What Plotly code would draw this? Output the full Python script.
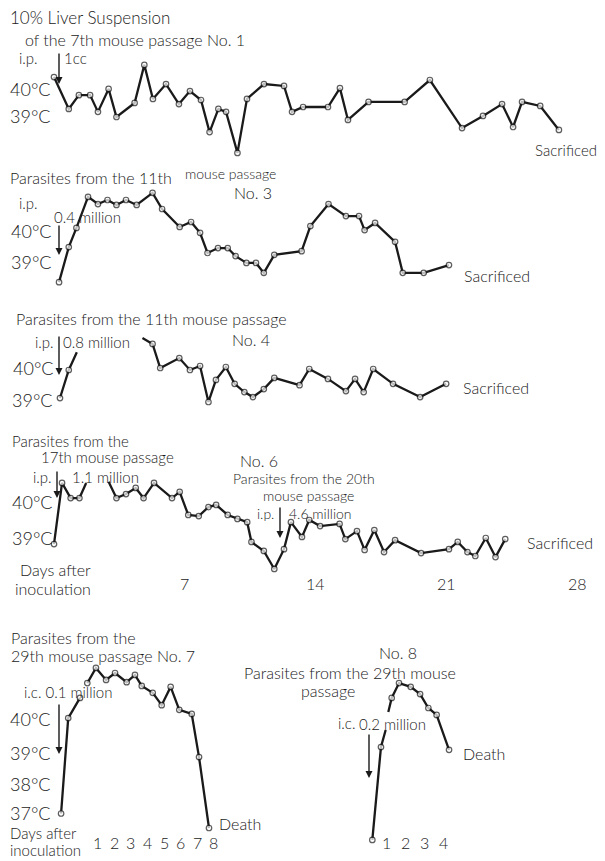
import plotly.graph_objects as go

W, H = 605, 861
OFF = 8            # page body margin of the browser
FW, FH = W - OFF, H - OFF

# ---------------- data (days after inoculation, body temperature in deg C) ----------------
# No. 1
p1_days = [0.0, 0.79, 1.33, 1.93, 2.35, 2.92, 3.34, 4.31, 4.83, 5.29, 5.99, 6.68, 7.27, 7.86, 8.32,
           8.79, 9.2, 9.81, 10.32, 11.23, 12.3, 12.73, 13.32, 14.65, 15.29, 15.72, 16.82, 18.75,
           20.1, 21.82, 22.94, 23.96, 24.55, 25.03, 26.0, 27.0]
p1_temp = [40.48, 39.30, 39.81, 39.81, 39.19, 40.04, 39.0, 39.52, 40.93, 39.67, 40.22, 39.48, 39.96,
           39.63, 38.44, 39.30, 39.19, 37.67, 39.67, 40.22, 40.15, 39.19, 39.37, 39.37, 40.07, 38.89,
           39.56, 39.56, 40.37, 38.59, 39.04, 39.48, 38.63, 39.56, 39.41, 38.52]
# No. 3
p3_days = [0.27, 0.79, 1.2, 1.82, 2.35, 2.86, 3.34, 3.85, 4.42, 5.27, 5.78, 6.72, 7.33, 7.81, 8.21,
           8.77, 9.29, 9.71, 10.29, 10.8, 11.22, 11.78, 13.24, 13.71, 14.68, 15.61, 16.31, 16.61,
           17.17, 18.24, 18.65, 19.77, 21.12]
p3_temp = [38.35, 39.48, 40.10, 41.10, 40.87, 41.0, 40.84, 41.0, 40.84, 41.23, 40.71, 40.13, 40.29,
           39.94, 39.29, 39.45, 39.45, 39.19, 38.97, 38.97, 38.65, 39.23, 39.35, 40.16, 40.87, 40.48,
           40.48, 40.03, 40.26, 39.65, 38.65, 38.65, 38.9]
# No. 4 (two drawn segments)
p4a_days = [0.32, 0.79, 1.22]
p4a_temp = [39.09, 39.94, 40.48]
p4b_days = [4.73, 5.27, 5.68, 6.7, 7.27, 7.81, 8.26, 8.66, 9.19, 9.66, 10.18, 10.64, 11.22, 11.78,
            13.13, 13.65, 14.65, 15.61, 16.1, 16.56, 17.07, 18.13, 19.58, 20.97]
p4b_temp = [40.91, 40.73, 40.0, 40.3, 39.94, 40.06, 38.97, 39.64, 40.03, 39.52, 39.27, 39.12, 39.36,
            39.70, 39.48, 39.97, 39.67, 39.30, 39.67, 39.27, 39.97, 39.52, 39.12, 39.52]
# No. 6 (two drawn segments)
p6a_days = [0.0, 0.43, 0.89, 1.36, 1.72]
p6a_temp = [38.83, 40.53, 40.11, 40.11, 40.53]
p6b_days = [2.92, 3.34, 3.85, 4.37, 4.79, 5.35, 6.31, 6.72, 7.18, 7.74, 8.26, 8.67, 9.29, 9.81,
            10.33, 10.56, 11.22, 11.78, 12.3, 12.67, 13.26, 13.65, 14.23, 15.27, 15.58, 16.2, 16.61,
            17.13, 17.65, 18.24, 19.63, 21.12, 21.59, 22.11, 22.53, 23.09, 23.61, 24.13]
p6b_temp = [40.56, 40.11, 40.22, 40.39, 40.11, 40.53, 40.11, 40.28, 39.64, 39.61, 39.86, 39.92,
            39.64, 39.53, 39.44, 38.89, 38.64, 38.14, 38.69, 39.44, 39.03, 39.5, 39.33, 39.39, 38.97,
            39.19, 38.67, 39.22, 38.61, 38.94, 38.58, 38.69, 38.89, 38.61, 38.5, 39.0, 38.47, 38.97]
# No. 7
p7a_days = [-1.2, -0.77, -0.06]
p7a_temp = [37.0, 40.03, 40.67]
p7b_days = [0.38, 0.9, 1.51, 2.05, 2.75, 3.25, 3.66, 4.32, 4.86, 5.40, 5.92, 6.67, 7.11, 7.71]
p7b_temp = [41.14, 41.62, 41.24, 41.46, 41.17, 41.40, 41.05, 40.83, 40.44, 41.02, 40.29, 40.16,
            38.79, 36.54]
# No. 8
p8a_days = [0.23, 0.69, 0.94]
p8a_temp = [36.16, 39.11, 39.65]
p8b_days = [1.08, 1.26, 1.65, 2.27, 2.77, 3.21, 3.65, 4.31]
p8b_temp = [40.22, 40.67, 41.14, 41.02, 40.79, 40.35, 40.13, 39.02]

# tick labels
long_ticks = [7, 14, 21, 28]
short_ticks7 = [1, 2, 3, 4, 5, 6, 7, 8]
short_ticks8 = [1, 2, 3, 4]
temp_labels_top = ["40°C", "39°C"]
temp_labels_7 = ["40°C", "39°C", "38°C", "37°C"]

# ---------------- layout helpers ----------------
FONT = "Lato"
WEIGHT = 300
INK = "#1a1a1a"


def xr(p0, s):
    p = p0 - OFF
    return [-p / s, (FW - p) / s]


def yr(y40, k):
    y = y40 - OFF
    return [40 - (FH - y) / k, 40 + y / k]


def px(x):
    return (x - OFF) / FW


def py(y):
    return 1 - (y - OFF) / FH


# panel scale: (page pixel of day 0, px per day, page pixel y of 40 C, px per degree)
scales = {
    1: (54, 18.7, 90, 27),
    2: (54, 18.7, 231, 31),
    3: (54, 18.7, 368, 33),
    4: (54, 18.7, 502, 36),
    5: (81, 16.6, 719, 31.5),
    6: (368, 18.8, 719, 31.5),
}

fig = go.Figure()


def add_series(ax, days, temps, open_start=False, open_end=False):
    sizes = [5.5] * len(days)
    if open_start:
        sizes[0] = 0
    if open_end:
        sizes[-1] = 0
    xa = "x" if ax == 1 else f"x{ax}"
    ya = "y" if ax == 1 else f"y{ax}"
    fig.add_trace(go.Scatter(
        x=days, y=temps, xaxis=xa, yaxis=ya, mode="lines+markers",
        line=dict(color=INK, width=2.3),
        marker=dict(size=sizes, color="white", line=dict(color=INK, width=1.2)),
        showlegend=False, hoverinfo="skip"))


add_series(1, p1_days, p1_temp)
add_series(2, p3_days, p3_temp)
add_series(3, p4a_days, p4a_temp, open_end=True)
add_series(3, p4b_days, p4b_temp, open_start=True)
add_series(4, p6a_days, p6a_temp, open_end=True)
add_series(4, p6b_days, p6b_temp, open_start=True)
add_series(5, p7a_days, p7a_temp)
add_series(5, p7b_days, p7b_temp)
add_series(6, p8a_days, p8a_temp, open_end=True)
add_series(6, p8b_days, p8b_temp, open_start=True)

layout = dict(width=FW, height=FH, margin=dict(l=0, r=0, t=0, b=0),
              paper_bgcolor="white", plot_bgcolor="rgba(0,0,0,0)", showlegend=False)
for i, (p0, s, y40, k) in scales.items():
    xn = "xaxis" if i == 1 else f"xaxis{i}"
    yn = "yaxis" if i == 1 else f"yaxis{i}"
    xd = dict(range=xr(p0, s), domain=[0, 1], visible=False, fixedrange=True)
    yd = dict(range=yr(y40, k), domain=[0, 1], visible=False, fixedrange=True)
    if i > 1:
        xd.update(overlaying="x", anchor=f"y{i}")
        yd.update(overlaying="y", anchor=f"x{i}")
    layout[xn] = xd
    layout[yn] = yd
fig.update_layout(**layout)

ann = []


def font(size):
    return dict(family=FONT, size=size, color=INK, weight=WEIGHT)


def text(x, y, t, size=16, anchor="left"):
    ann.append(dict(x=px(max(x, OFF + 1)), y=py(y), xref="paper", yref="paper", text=t,
                    showarrow=False, xanchor=anchor, yanchor="middle", borderpad=0,
                    font=font(size)))


def arrow(x, y0, y1):
    ann.append(dict(x=px(x), y=py(y1), xref="paper", yref="paper", ax=0, ay=-(y1 - y0),
                    axref="pixel", ayref="pixel", text="", showarrow=True, arrowhead=2,
                    arrowsize=1, arrowwidth=1.4, arrowcolor=INK))


def ticks(axis, values, y):
    for t in values:
        ann.append(dict(x=t, y=py(y), xref=axis, yref="paper", text=str(t), showarrow=False,
                        xanchor="center", yanchor="middle", borderpad=0, font=font(16)))


# No. 1
text(6, 17, "10% Liver Suspension", 17)
text(24, 40, "of the 7th mouse passage No. 1", 16)
text(18, 58, "i.p.", 15)
text(63, 58, "1cc", 15)
arrow(59, 52, 84)
text(9, 89, temp_labels_top[0], 18)
text(9, 116, temp_labels_top[1], 18)
text(534, 150, "Sacrificed", 15)

# No. 3
text(9, 177, "Parasites from the 11th", 16)
text(184, 173, "mouse passage", 14)
text(233, 193, "No. 3", 16)
text(18, 203, "i.p.", 15)
text(53, 217, "0.4 million", 15)
arrow(59, 224, 255)
text(10, 231, temp_labels_top[0], 18)
text(10, 262, temp_labels_top[1], 18)
text(463, 275, "Sacrificed", 16)

# No. 4
text(15, 318, "Parasites from the 11th mouse passage", 16)
text(34, 342, "i.p.", 15)
text(62, 342, "0.8 million", 15)
arrow(59, 335, 375)
text(231, 340, "No. 4", 16)
text(12, 368, temp_labels_top[0], 18)
text(11, 400, temp_labels_top[1], 18)
text(462, 387, "Sacrificed", 16)

# No. 6
text(11, 441, "Parasites from the", 15)
text(40, 457, "17th mouse passage", 15)
text(32, 477, "i.p.", 15)
text(71, 477, "1.1 million", 15)
arrow(57, 470, 498)
text(239, 460, "No. 6", 16)
text(232, 478, "Parasites from the 20th", 14)
text(262, 495, "mouse passage", 14)
text(256, 513, "i.p.", 14)
text(288, 513, "4.6 million", 14)
arrow(280, 506, 538)
text(11, 502, temp_labels_top[0], 18)
text(11, 538, temp_labels_top[1], 18)
text(19, 569, "Days after", 16)
text(14, 588, "inoculation", 16)
text(526, 542, "Sacrificed", 16)
ticks("x4", long_ticks, 583)

# No. 7
text(10, 637, "Parasites from the", 16)
text(10, 655, "29th mouse passage No. 7", 16)
text(23, 692, "i.c. 0.1 million", 15)
arrow(59, 703, 754)
for lab, yy in zip(temp_labels_7, [719, 753, 784, 813]):
    text(9, yy, lab, 18)
text(9, 833, "Days after", 15)
text(9, 850, "inoculation", 15)
text(218, 823, "Death", 16)
ticks("x5", short_ticks7, 842)

# No. 8
text(378, 652, "No. 8", 16)
text(243, 672, "Parasites from the 29th mouse", 16)
text(300, 690, "passage", 16)
text(337, 723, "i.c.", 15)
text(358, 724, "0.2 million", 15)
arrow(369, 733, 778)
text(462, 753, "Death", 16)
ticks("x6", short_ticks8, 842)

fig.update_layout(annotations=ann)
fig.write_html("out.html")
